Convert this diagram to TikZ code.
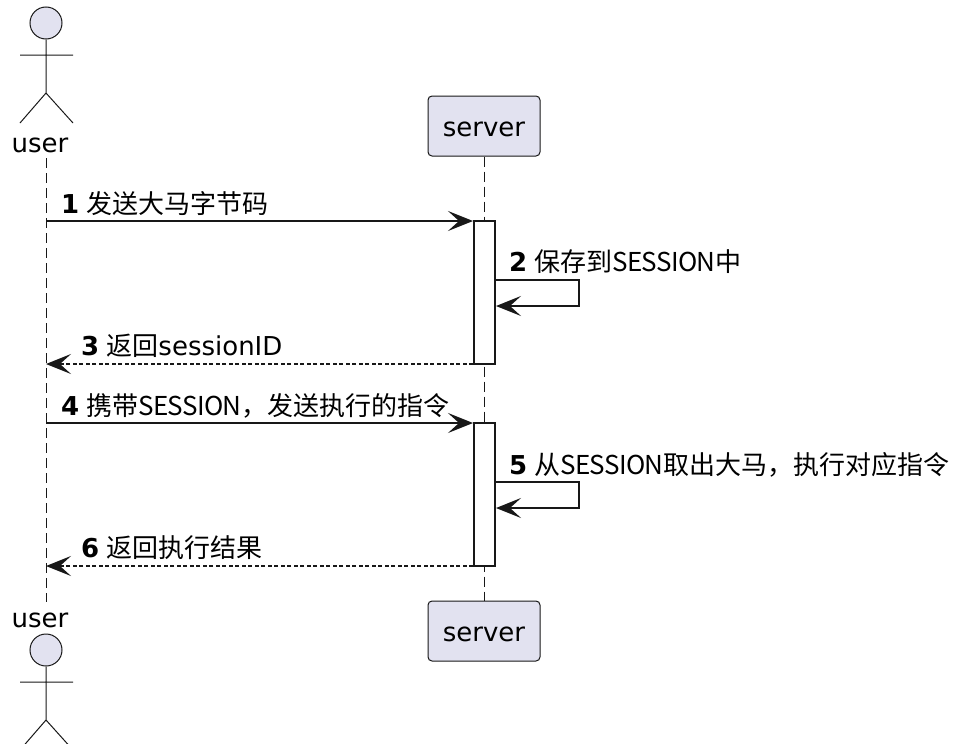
\documentclass[tikz,border=0pt]{standalone}
\usepackage{fontspec}
\setmainfont{DejaVu Sans}
\newfontfamily\cjk{Noto Sans CJK SC}
\newfontfamily\cjktight[LetterSpace=-2.7]{Noto Sans CJK SC}
\usetikzlibrary{arrows.meta,calc}
\definecolor{umlfill}{HTML}{E2E2F0}
\definecolor{umlline}{HTML}{181818}
\newcommand{\msgnum}[1]{\textbf{#1}\hspace{7.2pt}}
\newcommand{\sessionword}{{\cjktight SESSION}}
\tikzset{
  txt/.style={font=\fontsize{26}{30}\selectfont, inner sep=0pt, text=black},
  msglabel/.style={txt, anchor=base west},
  party/.style={txt, rectangle, draw=umlline, line width=1pt, fill=umlfill, rounded corners=4pt, minimum width=112pt, minimum height=60pt, text height=21.4pt, text depth=0pt},
  head/.style={circle, draw=umlline, line width=1pt, fill=umlfill, minimum size=32pt, inner sep=0pt},
  limb/.style={draw=umlline, line width=1pt},
  lifeline/.style={draw=umlline, line width=1pt, dash pattern=on 10pt off 5pt},
  activation/.style={rectangle, draw=umlline, line width=2pt, fill=white, minimum width=21pt, inner sep=0pt},
  msg/.style={draw=umlline, line width=2pt, -{Stealth[length=25pt,width=20pt,inset=11pt]}},
  reply/.style={msg, dash pattern=on 4pt off 2.5pt},
}
\begin{document}
\begin{tikzpicture}[x=1pt,y=-1pt]
\useasboundingbox (0,0) rectangle (956,744);

% parties, top and bottom
\node[head] (headTop) at (46,23) {};
\coordinate (hipTop) at (46,93);
\coordinate (armLTop) at (20,55);
\coordinate (armRTop) at (73,55);
\coordinate (footLTop) at (20,123);
\coordinate (footRTop) at (73,123);
\draw[limb] (headTop.south) -- (hipTop) -- (footLTop) (hipTop) -- (footRTop) (armLTop) -- (armRTop);
\node[txt, anchor=base] (userTop) at (40,152.5) {user};
\node[party] (serverTop) at (484,126) {server};

\node[txt, anchor=base] (userBottom) at (40,627.5) {user};
\node[head] (headBottom) at (46,650) {};
\coordinate (hipBottom) at (46,720);
\coordinate (armLBottom) at (20,682);
\coordinate (armRBottom) at (73,682);
\coordinate (footLBottom) at (20,750);
\coordinate (footRBottom) at (73,750);
\draw[limb] (headBottom.south) -- (hipBottom) -- (footLBottom) (hipBottom) -- (footRBottom) (armLBottom) -- (armRBottom);
\node[party] (serverBottom) at (484,631) {server};

% lifelines
\coordinate (lifeUserTop) at (46,158);
\coordinate (lifeUserBottom) at (46,602);
\draw[lifeline] (lifeUserTop) -- (lifeUserBottom);
\draw[lifeline] (serverTop.south) -- (serverBottom.north);

% activation bars
\node[activation, minimum height=143pt] (barA) at (484.5,292.5) {};
\node[activation, minimum height=143pt] (barB) at (484.5,494.5) {};

% messages
\coordinate (m1) at (46,221);
\coordinate (m3) at (46,364);
\coordinate (m4) at (46,423);
\coordinate (m6) at (46,566);
\coordinate (loopA1) at (579,280);
\coordinate (loopA2) at (579,306);
\coordinate (loopB1) at (579,482);
\coordinate (loopB2) at (579,508);

\draw[msg] (m1) -- (m1 -| barA.west);
\draw[msg] (loopA1 -| barA.east) -- (loopA1) -- (loopA2) -- (loopA2 -| barA.east);
\draw[reply] (m3 -| barA.west) -- (m3);
\draw[msg] (m4) -- (m4 -| barB.west);
\draw[msg] (loopB1 -| barB.east) -- (loopB1) -- (loopB2) -- (loopB2 -| barB.east);
\draw[reply] (m6 -| barB.west) -- (m6);

\node[msglabel] (label1) at (61,213) {\msgnum{1}\cjk 发送大马字节码};
\node[msglabel] (label2) at (509,271) {\msgnum{2}{\cjk 保存到\sessionword 中}};
\node[msglabel] (label3) at (81,355.5) {\msgnum{3}{\cjk 返回}sessionID};
\node[msglabel] (label4) at (61,415) {\msgnum{4}\cjk 携带\sessionword ，发送执行的指令};
\node[msglabel] (label5) at (509,474) {\msgnum{5}\cjk 从\sessionword 取出大马，执行对应指令};
\node[msglabel] (label6) at (81,557.5) {\msgnum{6}\cjk 返回执行结果};
\end{tikzpicture}
\end{document}
